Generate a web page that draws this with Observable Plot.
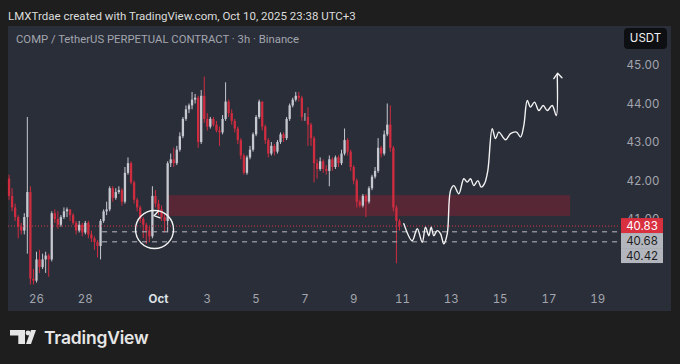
<!DOCTYPE html>
<html><head><meta charset="utf-8">
<script src="https://cdn.jsdelivr.net/npm/d3@7"></script>
<script src="https://cdn.jsdelivr.net/npm/@observablehq/plot@0.6"></script>
<style>
html,body{margin:0;padding:0;background:#1e1e1e;width:680px;height:364px;overflow:hidden;font-family:Inter,Roboto,sans-serif;}
#header{position:absolute;left:8px;top:8px;font-family:Roboto,sans-serif;font-size:11.5px;line-height:16px;color:#dcdcdc;white-space:nowrap;}
#panel{position:absolute;left:8px;top:26px;width:663px;height:285px;background:#2a2e39;}
#chart{position:absolute;left:0;top:26px;}
#title{position:absolute;left:16px;top:32px;font-family:Roboto,sans-serif;font-size:11.3px;line-height:16px;color:#a2a5ad;white-space:nowrap;}
#usdt{position:absolute;left:624px;top:28px;width:43px;height:21px;background:#0e0f12;border-radius:4px;color:#f0f0f0;font-size:11.5px;line-height:21px;text-align:center;}
#footer{position:absolute;left:10px;top:326px;height:22px;display:flex;align-items:center;}
#footer span{font-family:Inter,sans-serif;font-weight:600;font-size:17.5px;color:#e6e6e6;margin-left:8px;letter-spacing:-0.2px;}
</style></head>
<body>
<div id="header">LMXTrdae created with TradingView.com, Oct 10, 2025 23:38 UTC+3</div>
<div id="panel"></div>
<div id="chart"></div>
<div id="title">COMP / TetherUS PERPETUAL CONTRACT · 3h · Binance</div>
<div id="usdt">USDT</div>
<div id="footer"><svg width="26" height="14" viewBox="0 0 26 14"><path d="M0 0H15V14H8.3V5.6H0Z" fill="#e6e6e6"/><circle cx="18" cy="3" r="2.4" fill="#e6e6e6"/><path d="M21 0H26L21 14H16Z" fill="#e6e6e6"/></svg><span>TradingView</span></div>
<script>
// ---- data ----
const candleStart = "2025-09-24T21:00Z"; // 3h candles
const firstOpen = 42.05;
const candleClose = [41.60,41.30,41.05,40.80,40.70,41.05,41.70,39.45,39.40,39.95,
39.75,39.95,40.05,39.95,41.15,41.00,40.85,41.05,41.20,41.25,
41.10,40.90,40.70,40.85,40.65,40.90,40.60,40.50,40.40,40.30,
40.95,41.20,41.25,41.80,41.55,41.70,41.75,41.45,42.20,42.45,
41.95,41.50,41.30,41.00,40.85,40.70,40.55,41.60,41.40,41.25,
41.05,40.95,42.45,42.55,42.45,42.80,43.15,43.60,43.85,43.95,
44.10,44.15,43.00,44.20,43.60,43.40,43.60,43.45,43.30,43.25,
43.60,44.05,43.75,43.55,43.35,43.05,42.65,42.20,42.60,42.80,
43.20,43.65,44.05,43.40,43.05,42.70,42.90,42.75,43.00,43.20,
43.10,43.60,43.95,44.10,44.20,44.15,43.65,43.65,43.45,43.10,
42.45,42.30,42.50,42.30,42.25,42.55,42.35,42.60,42.45,42.70,
43.05,42.75,42.35,42.00,41.45,41.35,41.60,41.45,41.80,42.10,
42.25,42.85,42.70,43.20,43.45,42.85,41.30,40.95,40.83];
const candleHigh = [42.15,41.80,41.40,41.10,40.90,41.15,43.65,41.85,39.70,40.15,
40.20,40.10,40.15,40.10,41.20,41.25,41.20,41.10,41.30,41.30,
41.25,41.15,40.95,40.95,40.90,40.95,40.95,40.70,40.55,40.45,
41.00,41.25,41.45,41.85,41.85,41.80,41.85,41.80,42.35,42.60,
42.50,42.00,41.55,41.35,41.05,40.90,40.80,41.85,41.75,41.50,
41.35,41.15,42.50,42.70,42.85,42.90,43.25,43.65,43.95,44.00,
44.30,44.25,44.20,44.35,44.70,43.75,43.65,43.65,43.55,43.40,
43.70,44.55,44.10,43.85,43.60,43.40,43.10,42.70,42.65,42.90,
43.25,43.70,44.10,44.05,43.45,43.10,43.00,42.95,43.05,43.25,
43.25,43.65,44.00,44.15,44.30,44.30,44.20,43.75,43.90,43.50,
43.15,42.55,42.60,42.55,42.40,42.65,42.60,42.65,42.65,42.80,
43.35,43.10,42.80,42.40,42.05,41.50,41.65,41.65,41.85,42.15,
42.35,43.10,42.90,43.30,44.00,43.95,42.90,41.35,41.00];
const candleLow = [41.50,41.20,40.95,40.50,40.60,40.60,40.10,39.30,39.30,39.35,
39.60,39.70,39.60,39.50,39.90,40.90,40.75,40.80,41.00,41.05,
40.95,40.85,40.60,40.65,40.55,40.60,40.50,40.40,40.20,40.00,
39.95,40.90,41.10,41.20,41.45,41.50,41.65,41.35,41.40,42.15,
41.90,41.40,41.20,40.90,40.50,40.35,40.40,40.50,41.30,41.10,
40.95,40.65,40.65,42.35,42.35,42.40,42.75,43.10,43.55,43.75,
43.85,44.00,42.85,42.95,43.50,43.30,43.35,43.40,43.25,42.90,
43.20,43.55,43.65,43.45,43.25,42.95,42.55,42.15,42.15,42.55,
42.75,43.15,43.60,43.30,42.95,42.60,42.65,42.65,42.70,42.95,
43.00,43.05,43.55,43.90,44.05,44.05,43.55,43.55,42.90,42.90,
41.95,42.05,42.25,42.20,42.15,41.85,42.25,42.30,42.35,42.40,
42.65,42.65,42.25,41.90,41.30,41.30,41.30,41.05,41.40,41.75,
42.05,42.20,42.60,42.65,43.15,42.75,41.20,39.85,40.70];

// price levels (label boxes on the price scale)
const levelPrices = [40.83, 40.68, 40.42];
const levelLabels = ["40.83", "40.68", "40.42"];
const dashLevels = [40.68, 40.42];
const dashStart = "2025-09-28T17:00Z";
const lastPrice = 40.83;

// demand zone
const zoneStart = "2025-10-01T09:50Z", zoneEnd = "2025-10-17T21:20Z";
const zoneLow = 41.08, zoneHigh = 41.62;

// projected path (hours after 2025-09-26 00:00 UTC, price)
const projBase = "2025-09-26T00:00Z";
const projHour = [361.3,369.5,374.5,379.4,382.6,385.9,388.2,390.8,394.1,397.4,400.6,404.0,
407.2,410.5,415.4,420.3,423.6,426.9,430.1,434.1,437.4,440.6,443.9,
448.2,451.5,454.7,461.3,466.2,472.1,476.1,479.3,
482.7,485.9,489.8,494.1,498.4,502.3,507.2,511.2,512.2];
const projPrice = [40.89,40.45,40.76,40.41,40.80,40.58,40.80,40.58,40.71,40.63,40.37,40.63,
41.75,41.88,41.67,42.06,41.97,42.06,41.88,42.01,41.84,41.93,42.27,
43.36,43.10,43.27,43.07,43.23,43.27,43.14,43.44,
44.09,43.92,44.05,43.83,43.96,43.83,43.96,43.70,44.74];
const arrowHour = [508.8, 512.6, 516.8];
const arrowPrice = [44.66, 44.80, 44.68];

// circled area
const circleHour = 116.1, circlePrice = 40.74;
const hookHour = [120.0, 115.6, 121.5];
const hookPrice = [41.22, 41.10, 41.04];

// axis ticks
const xTickDates = ["2025-09-26","2025-09-28","2025-10-03","2025-10-05","2025-10-07","2025-10-09","2025-10-11","2025-10-13","2025-10-15","2025-10-17","2025-10-19"];
const xTickLabels = ["26","28","3","5","7","9","11","13","15","17","19"];
const monthTickDate = "2025-10-01", monthTickLabel = "Oct";
const yTicks = [41, 42, 43, 44, 45];

// ---- build ----
const H = 3600e3;
const t0 = Date.parse(candleStart);
const candles = candleClose.map((c, i) => ({
  time: new Date(t0 + i * 3 * H),
  open: i === 0 ? firstOpen : candleClose[i - 1],
  close: c, high: candleHigh[i], low: candleLow[i]
}));
const pb = Date.parse(projBase);
const proj = projHour.map((h, i) => ({time: new Date(pb + h * H), price: projPrice[i]}));
const arrow = arrowHour.map((h, i) => ({time: new Date(pb + h * H), price: arrowPrice[i]}));
const hook = hookHour.map((h, i) => ({time: new Date(pb + h * H), price: hookPrice[i]}));
const tickLabelMap = new Map(xTickDates.map((d, i) => [Date.parse(d + "T00:00Z"), xTickLabels[i]]));
const RED = "#cf2c40", WHITE = "#c6c8cf";
const col = d => d.close >= d.open ? WHITE : RED;
const xDomainEnd = new Date("2025-10-19T22:24Z");

const chart = Plot.plot({
  width: 680, height: 285,
  marginLeft: 8, marginRight: 60, marginTop: 0, marginBottom: 23,
  style: {background: "transparent", fontFamily: "Inter, Roboto, sans-serif", fontSize: "11.5px", overflow: "visible"},
  x: {type: "utc", domain: [new Date("2025-09-24T20:28Z"), xDomainEnd], label: null},
  y: {domain: [39.208, 46.013], label: null},
  marks: [
    Plot.rect([{x1: new Date(zoneStart), x2: new Date(zoneEnd), y1: zoneLow, y2: zoneHigh}],
      {x1: "x1", x2: "x2", y1: "y1", y2: "y2", fill: "#a01c33", fillOpacity: 0.38}),
    Plot.ruleX(candles, {x: "time", y1: "low", y2: "high", stroke: col, strokeWidth: 1}),
    Plot.ruleX(candles, {x: "time", y1: "open", y2: "close", stroke: col, strokeWidth: 2.3}),
    Plot.ruleY([lastPrice], {stroke: "#e03245", strokeWidth: 1, strokeDasharray: "1,2"}),
    Plot.ruleY(dashLevels, {x1: new Date(dashStart), x2: xDomainEnd, stroke: "#b8bbc3", strokeWidth: 1, strokeDasharray: "5,5"}),
    Plot.line(proj, {x: "time", y: "price", curve: "catmull-rom", stroke: "#f2f2f2", strokeWidth: 1.4}),
    Plot.line(arrow, {x: "time", y: "price", stroke: "#f2f2f2", strokeWidth: 1.4}),
    Plot.dot([{time: new Date(pb + circleHour * H), price: circlePrice}], {x: "time", y: "price", r: 19, stroke: "#f2f2f2", strokeWidth: 1.4, fill: "none"}),
    Plot.line(hook, {x: "time", y: "price", stroke: "#f2f2f2", strokeWidth: 1.4}),
    Plot.axisX({ticks: xTickDates.map(d => new Date(d + "T00:00Z")), tickFormat: d => tickLabelMap.get(+d), tickSize: 0, tickPadding: 6, color: "#a3a6ae", label: null}),
    Plot.axisX({ticks: [new Date(monthTickDate + "T00:00Z")], tickFormat: () => monthTickLabel, tickSize: 0, tickPadding: 6, color: "#dfe1e6", fontWeight: "bold", label: null}),
    Plot.axisY({anchor: "right", ticks: yTicks, tickFormat: d => d.toFixed(2), tickSize: 0, tickPadding: 6, color: "#a3a6ae", label: null})
  ]
});
document.getElementById("chart").appendChild(chart);

// price label boxes on the price scale
const ys = chart.scale("y");
const svg = d3.select(chart);
const boxX = 680 - 60 + 1, boxW = 42, boxH = 15;
let prevBottom = -Infinity;
levelPrices.forEach((p, i) => {
  let cy = Math.max(ys.apply(p), prevBottom + boxH / 2);
  const top = cy - boxH / 2;
  prevBottom = top + boxH;
  const g = svg.append("g");
  g.append("rect").attr("x", boxX).attr("y", top).attr("width", boxW).attr("height", boxH)
    .attr("fill", i === 0 ? "#d9303f" : "#b4b6bd");
  g.append("text").attr("x", boxX + boxW / 2).attr("y", cy).attr("dy", "0.35em")
    .attr("text-anchor", "middle").attr("font-size", 11.5)
    .attr("fill", i === 0 ? "#ffffff" : "#1c1e24").text(levelLabels[i]);
});
</script>
</body></html>
